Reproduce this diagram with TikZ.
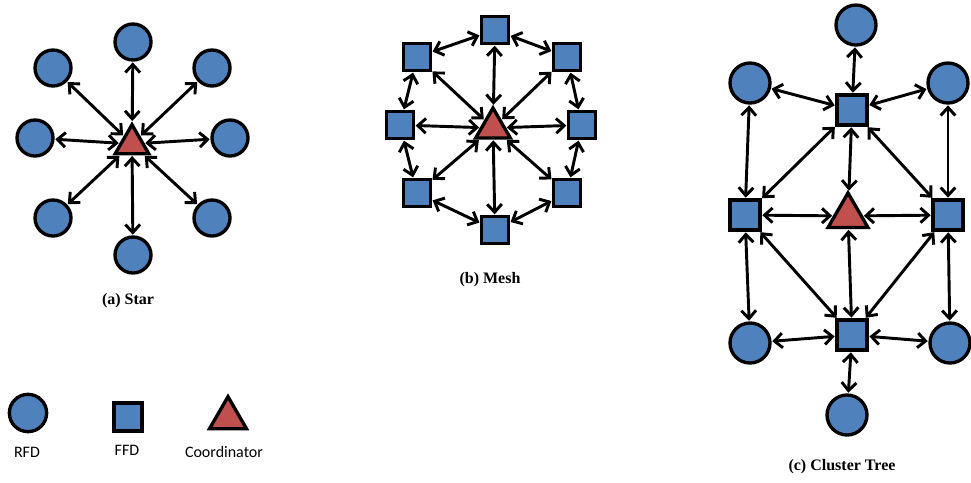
\documentclass[tikz,border=0pt]{standalone}
\usepackage{fontspec}
\setmainfont{Liberation Serif}
\newfontfamily\captfont{Liberation Serif}
\newfontfamily\legfont{Carlito}
\usetikzlibrary{arrows.meta,shapes.geometric}
\definecolor{devblue}{HTML}{4F81BD}
\definecolor{hubred}{HTML}{C0504D}
\tikzset{rfd/.style={circle,draw=black,line width=2.5pt,fill=devblue,inner sep=0pt,minimum size=27pt},ffd/.style={rectangle,draw=black,line width=2.5pt,fill=devblue,inner sep=0pt,minimum size=20pt},hub/.style={regular polygon,regular polygon sides=3,draw=black,line width=2.5pt,fill=hubred,inner sep=0pt,minimum size=29pt},arrow/.style={{Straight Barb[length=6pt,width=11pt]}-{Straight Barb[length=6pt,width=11pt]},line width=2.2pt,shorten <=0.5pt,shorten >=0.5pt},capt/.style={font=\captfont\bfseries\fontsize{12}{14}\selectfont},leg/.style={font=\legfont\fontsize{12}{14}\selectfont}}
\begin{document}
\begin{tikzpicture}[x=0.75pt,y=-0.75pt]
\useasboundingbox (0,0) rectangle (971,482);
% (a) star
\node[hub] (s0) at (132,144) {};
\node[rfd] (s1) at (133,42) {};
\node[rfd] (s2) at (212,68) {};
\node[rfd] (s3) at (230,138) {};
\node[rfd] (s4) at (212,218) {};
\node[rfd] (s5) at (133,255) {};
\node[rfd] (s6) at (53,218) {};
\node[rfd] (s7) at (35,138) {};
\node[rfd] (s8) at (53,68) {};
\node[capt] (sc) at (128,301) {(a) Star};
\foreach \i in {1,...,8}{\draw[arrow](s0)--(s\i);}
% (b) mesh
\node[hub,minimum size=30pt] (m0) at (493,128) {};
\node[ffd] (m1) at (495,30) {};
\node[ffd] (m2) at (567,57) {};
\node[ffd] (m3) at (582,125) {};
\node[ffd] (m4) at (567,193) {};
\node[ffd] (m5) at (495,230) {};
\node[ffd] (m6) at (417,193) {};
\node[ffd] (m7) at (400,125) {};
\node[ffd] (m8) at (417,57) {};
\node[capt] (mc) at (490,280) {(b) Mesh};
\foreach \i in {1,...,8}{\draw[arrow](m0)--(m\i);}
\foreach \i/\j in {1/2,2/3,3/4,4/5,5/6,6/7,7/8,8/1}{\draw[arrow](m\i)--(m\j);}
% (c) cluster tree
\node[hub,minimum size=34.6pt] (t0) at (848,216) {};
\node[ffd,minimum size=22.5pt] (fn) at (852,110) {};
\node[ffd,minimum size=22.5pt] (fe) at (948,215) {};
\node[ffd,minimum size=22.5pt] (fs) at (852,335) {};
\node[ffd,minimum size=22.5pt] (fw) at (745,215) {};
\node[rfd,minimum size=30pt] (rn) at (856,25) {};
\node[rfd,minimum size=30pt] (rne) at (948,83) {};
\node[rfd,minimum size=30pt] (rnw) at (750,83) {};
\node[rfd,minimum size=30pt] (rse) at (950,343) {};
\node[rfd,minimum size=30pt] (rsw) at (750,343) {};
\node[rfd,minimum size=30pt] (rs) at (847,415) {};
\node[capt] (tc) at (842,467) {(c) Cluster Tree};
\foreach \a/\b in {fn/rn,fn/rnw,fn/rne,rnw/fw,rne/fe,fn/fw,fn/fe,fn/t0,fw/t0,fe/t0,fw/fs,fe/fs,fs/t0,fw/rsw,fe/rse,rsw/fs,rse/fs,fs/rs}{\draw[arrow](\a)--(\b);}
% legend
\node[rfd,minimum size=28pt] (l1) at (28,413) {};
\node[ffd,minimum size=21pt] (l2) at (128,417) {};
\node[hub,minimum size=32pt] (l3) at (228,418) {};
\node[leg] (l1t) at (27,452) {RFD};
\node[leg] (l2t) at (127,450) {FFD};
\node[leg] (l3t) at (224,452) {Coordinator};
\end{tikzpicture}
\end{document}
